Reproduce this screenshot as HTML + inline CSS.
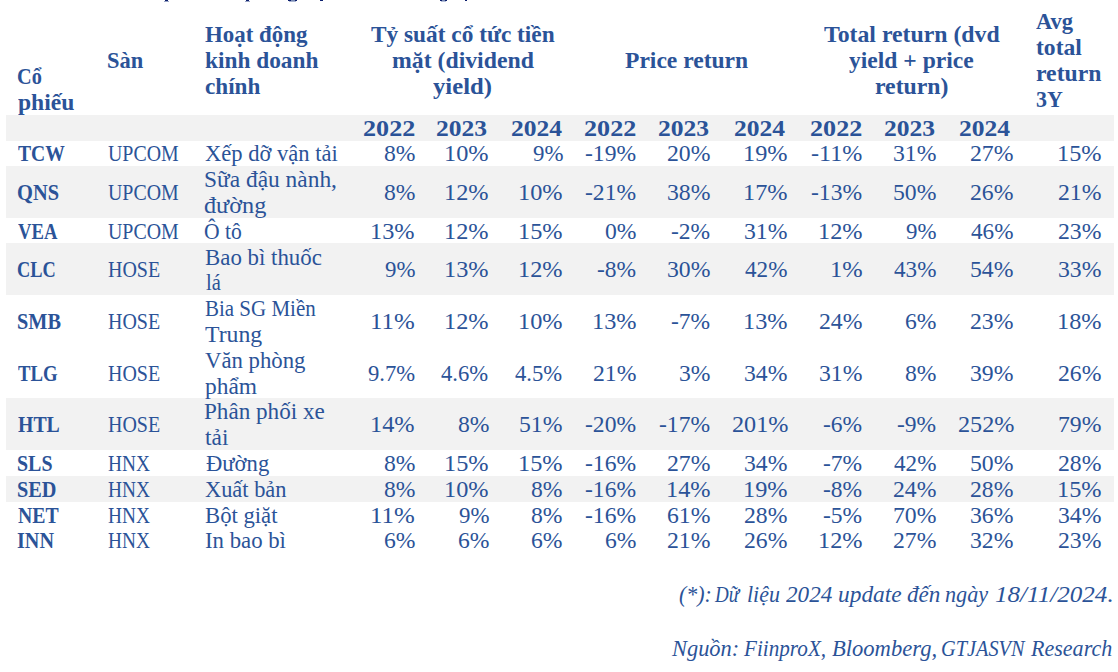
<!DOCTYPE html>
<html><head><meta charset="utf-8"><style>
html,body{margin:0;padding:0;background:#fff;width:1118px;height:672px;overflow:hidden;position:relative}
.t{position:absolute;font-family:"Liberation Serif",serif;font-size:23.0px;line-height:40px;white-space:nowrap;color:#2b5398}
.t.r{}
.g{position:absolute;left:6px;width:1108px;background:#f2f2f2}
.m{position:absolute;background:#1f3a78}
</style></head><body>
<div class=g style="top:115px;height:26px"></div>
<div class=g style="top:166px;height:52px"></div>
<div class=g style="top:243px;height:52px"></div>
<div class=g style="top:398px;height:52px"></div>
<div class=g style="top:476px;height:26px"></div>
<div class=m style="left:165px;top:0;width:3px;height:1px;background:#0c1f6e"></div>
<div class=m style="left:164px;top:1px;width:5px;height:1px;background:#9aa6c6"></div>
<div class=m style="left:246px;top:0;width:3px;height:1px;background:#0c1f6e"></div>
<div class=m style="left:245px;top:1px;width:5px;height:1px;background:#9aa6c6"></div>
<div class=m style="left:288px;top:0;width:3px;height:1px;background:#0c1f6e"></div>
<div class=m style="left:291px;top:0;width:4px;height:1px;background:#7a8cb4"></div>
<div class=m style="left:295px;top:0;width:2px;height:1px;background:#0c1f6e"></div>
<div class=m style="left:289px;top:1px;width:7px;height:1px;background:#a9b4d0"></div>
<div class=m style="left:320px;top:0;width:3px;height:1px;background:#0c1f6e"></div>
<div class=m style="left:440px;top:0;width:2px;height:1px;background:#0c1f6e"></div>
<div class=m style="left:442px;top:0;width:3px;height:1px;background:#7a8cb4"></div>
<div class=m style="left:445px;top:0;width:2px;height:1px;background:#0c1f6e"></div>
<div class=m style="left:441px;top:1px;width:5px;height:1px;background:#b5bfd8"></div>
<div class=m style="left:465px;top:0;width:2px;height:1px;background:#0c1f6e"></div>

<div class="t" style="left:17.12px;top:57.00px;font-weight:bold;transform:scaleX(0.8815);transform-origin:0 0;">Cổ</div>
<div class="t" style="left:18.00px;top:83.00px;font-weight:bold;transform:scaleX(1.0255);transform-origin:0 0;">phiếu</div>
<div class="t" style="left:106.52px;top:41.00px;font-weight:bold;transform:scaleX(0.9778);transform-origin:0 0;">Sàn</div>
<div class="t" style="left:205.20px;top:15.00px;font-weight:bold;transform:scaleX(0.9961);transform-origin:0 0;">Hoạt động</div>
<div class="t" style="left:205.20px;top:41.00px;font-weight:bold;transform:scaleX(1.0134);transform-origin:0 0;">kinh doanh</div>
<div class="t" style="left:205.20px;top:67.00px;font-weight:bold;transform:scaleX(1.0073);transform-origin:0 0;">chính</div>
<div class="t" style="left:370.95px;top:15.00px;font-weight:bold;transform:scaleX(1.0135);transform-origin:0 0;">Tỷ suất cổ tức tiền</div>
<div class="t" style="left:392.10px;top:41.00px;font-weight:bold;transform:scaleX(1.0328);transform-origin:0 0;">mặt (dividend</div>
<div class="t" style="left:433.40px;top:67.00px;font-weight:bold;transform:scaleX(1.0722);transform-origin:0 0;">yield)</div>
<div class="t" style="left:625.00px;top:41.00px;font-weight:bold;transform:scaleX(1.0242);transform-origin:0 0;">Price return</div>
<div class="t" style="left:824.10px;top:15.00px;font-weight:bold;transform:scaleX(1.0335);transform-origin:0 0;">Total return (dvd</div>
<div class="t" style="left:849.10px;top:41.00px;font-weight:bold;transform:scaleX(1.0246);transform-origin:0 0;">yield + price</div>
<div class="t" style="left:874.90px;top:67.00px;font-weight:bold;transform:scaleX(1.0338);transform-origin:0 0;">return)</div>
<div class="t" style="left:1036.00px;top:2.00px;font-weight:bold;transform:scaleX(0.9789);transform-origin:0 0;">Avg</div>
<div class="t" style="left:1036.00px;top:28.00px;font-weight:bold;transform:scaleX(1.0267);transform-origin:0 0;">total</div>
<div class="t" style="left:1036.00px;top:54.00px;font-weight:bold;transform:scaleX(1.0312);transform-origin:0 0;">return</div>
<div class="t" style="left:1035.54px;top:80.00px;font-weight:bold;transform:scaleX(0.9556);transform-origin:0 0;">3Y</div>
<div class="t" style="left:362.66px;top:108.60px;font-weight:bold;transform:scaleX(1.1364);transform-origin:0 0;">2022</div>
<div class="t" style="left:436.29px;top:108.60px;font-weight:bold;transform:scaleX(1.1111);transform-origin:0 0;">2023</div>
<div class="t" style="left:510.89px;top:108.60px;font-weight:bold;transform:scaleX(1.1111);transform-origin:0 0;">2024</div>
<div class="t" style="left:584.26px;top:108.60px;font-weight:bold;transform:scaleX(1.1364);transform-origin:0 0;">2022</div>
<div class="t" style="left:658.39px;top:108.60px;font-weight:bold;transform:scaleX(1.1111);transform-origin:0 0;">2023</div>
<div class="t" style="left:733.89px;top:108.60px;font-weight:bold;transform:scaleX(1.1111);transform-origin:0 0;">2024</div>
<div class="t" style="left:810.16px;top:108.60px;font-weight:bold;transform:scaleX(1.1364);transform-origin:0 0;">2022</div>
<div class="t" style="left:884.09px;top:108.60px;font-weight:bold;transform:scaleX(1.1111);transform-origin:0 0;">2023</div>
<div class="t" style="left:959.39px;top:108.60px;font-weight:bold;transform:scaleX(1.1111);transform-origin:0 0;">2024</div>
<div class="t" style="left:18.00px;top:134.00px;font-weight:bold;transform:scaleX(0.8527);transform-origin:0 0;">TCW</div>
<div class="t r" style="left:108.20px;top:134.00px;transform:scaleX(0.8642);transform-origin:0 0;">UPCOM</div>
<div class="t r" style="left:205.00px;top:134.00px;transform:scaleX(0.9807);transform-origin:0 0;">Xếp dỡ vận tải</div>
<div class="t r" style="left:383.97px;top:134.00px;transform:scaleX(1.0276);transform-origin:0 0;">8%</div>
<div class="t r" style="left:444.14px;top:134.00px;transform:scaleX(1.0562);transform-origin:0 0;">10%</div>
<div class="t r" style="left:532.50px;top:134.00px;transform:scaleX(0.9933);transform-origin:0 0;">9%</div>
<div class="t r" style="left:585.02px;top:134.00px;transform:scaleX(1.0255);transform-origin:0 0;">-19%</div>
<div class="t r" style="left:667.02px;top:134.00px;transform:scaleX(1.0305);transform-origin:0 0;">20%</div>
<div class="t r" style="left:743.34px;top:134.00px;transform:scaleX(1.0562);transform-origin:0 0;">19%</div>
<div class="t r" style="left:810.70px;top:134.00px;transform:scaleX(1.0469);transform-origin:0 0;">-11%</div>
<div class="t r" style="left:892.72px;top:134.00px;transform:scaleX(1.0305);transform-origin:0 0;">31%</div>
<div class="t r" style="left:970.02px;top:134.00px;transform:scaleX(1.0305);transform-origin:0 0;">27%</div>
<div class="t r" style="left:1057.14px;top:134.00px;transform:scaleX(1.0562);transform-origin:0 0;">15%</div>
<div class="t" style="left:17.11px;top:173.00px;font-weight:bold;transform:scaleX(0.8891);transform-origin:0 0;">QNS</div>
<div class="t r" style="left:108.20px;top:173.00px;transform:scaleX(0.8642);transform-origin:0 0;">UPCOM</div>
<div class="t r" style="left:203.98px;top:160.10px;transform:scaleX(1.0178);transform-origin:0 0;">Sữa đậu nành,</div>
<div class="t r" style="left:204.15px;top:185.90px;transform:scaleX(1.0534);transform-origin:0 0;">đường</div>
<div class="t r" style="left:383.97px;top:173.00px;transform:scaleX(1.0276);transform-origin:0 0;">8%</div>
<div class="t r" style="left:444.14px;top:173.00px;transform:scaleX(1.0562);transform-origin:0 0;">12%</div>
<div class="t r" style="left:517.94px;top:173.00px;transform:scaleX(1.0562);transform-origin:0 0;">10%</div>
<div class="t r" style="left:585.02px;top:173.00px;transform:scaleX(1.0255);transform-origin:0 0;">-21%</div>
<div class="t r" style="left:667.02px;top:173.00px;transform:scaleX(1.0305);transform-origin:0 0;">38%</div>
<div class="t r" style="left:743.34px;top:173.00px;transform:scaleX(1.0562);transform-origin:0 0;">17%</div>
<div class="t r" style="left:810.72px;top:173.00px;transform:scaleX(1.0255);transform-origin:0 0;">-13%</div>
<div class="t r" style="left:892.72px;top:173.00px;transform:scaleX(1.0305);transform-origin:0 0;">50%</div>
<div class="t r" style="left:970.02px;top:173.00px;transform:scaleX(1.0305);transform-origin:0 0;">26%</div>
<div class="t r" style="left:1058.22px;top:173.00px;transform:scaleX(1.0305);transform-origin:0 0;">21%</div>
<div class="t" style="left:18.00px;top:212.00px;font-weight:bold;transform:scaleX(0.8102);transform-origin:0 0;">VEA</div>
<div class="t r" style="left:108.20px;top:212.00px;transform:scaleX(0.8642);transform-origin:0 0;">UPCOM</div>
<div class="t r" style="left:204.26px;top:212.00px;transform:scaleX(0.9385);transform-origin:0 0;">Ô tô</div>
<div class="t r" style="left:370.44px;top:212.00px;transform:scaleX(1.0562);transform-origin:0 0;">13%</div>
<div class="t r" style="left:444.14px;top:212.00px;transform:scaleX(1.0562);transform-origin:0 0;">12%</div>
<div class="t r" style="left:517.94px;top:212.00px;transform:scaleX(1.0562);transform-origin:0 0;">15%</div>
<div class="t r" style="left:605.47px;top:212.00px;transform:scaleX(1.0276);transform-origin:0 0;">0%</div>
<div class="t r" style="left:671.48px;top:212.00px;transform:scaleX(1.0216);transform-origin:0 0;">-2%</div>
<div class="t r" style="left:744.42px;top:212.00px;transform:scaleX(1.0305);transform-origin:0 0;">31%</div>
<div class="t r" style="left:817.64px;top:212.00px;transform:scaleX(1.0562);transform-origin:0 0;">12%</div>
<div class="t r" style="left:906.20px;top:212.00px;transform:scaleX(0.9933);transform-origin:0 0;">9%</div>
<div class="t r" style="left:971.05px;top:212.00px;transform:scaleX(1.0060);transform-origin:0 0;">46%</div>
<div class="t r" style="left:1058.22px;top:212.00px;transform:scaleX(1.0305);transform-origin:0 0;">23%</div>
<div class="t" style="left:17.20px;top:250.00px;font-weight:bold;transform:scaleX(0.7957);transform-origin:0 0;">CLC</div>
<div class="t r" style="left:108.20px;top:250.00px;transform:scaleX(0.8678);transform-origin:0 0;">HOSE</div>
<div class="t r" style="left:204.81px;top:238.00px;transform:scaleX(0.9940);transform-origin:0 0;">Bao bì thuốc</div>
<div class="t r" style="left:205.50px;top:262.90px;transform:scaleX(0.8941);transform-origin:0 0;">lá</div>
<div class="t r" style="left:385.00px;top:250.00px;transform:scaleX(0.9933);transform-origin:0 0;">9%</div>
<div class="t r" style="left:444.14px;top:250.00px;transform:scaleX(1.0562);transform-origin:0 0;">13%</div>
<div class="t r" style="left:517.94px;top:250.00px;transform:scaleX(1.0562);transform-origin:0 0;">12%</div>
<div class="t r" style="left:597.48px;top:250.00px;transform:scaleX(1.0216);transform-origin:0 0;">-8%</div>
<div class="t r" style="left:667.02px;top:250.00px;transform:scaleX(1.0305);transform-origin:0 0;">30%</div>
<div class="t r" style="left:745.45px;top:250.00px;transform:scaleX(1.0060);transform-origin:0 0;">42%</div>
<div class="t r" style="left:830.07px;top:250.00px;transform:scaleX(1.0643);transform-origin:0 0;">1%</div>
<div class="t r" style="left:893.75px;top:250.00px;transform:scaleX(1.0060);transform-origin:0 0;">43%</div>
<div class="t r" style="left:970.02px;top:250.00px;transform:scaleX(1.0305);transform-origin:0 0;">54%</div>
<div class="t r" style="left:1058.22px;top:250.00px;transform:scaleX(1.0305);transform-origin:0 0;">33%</div>
<div class="t" style="left:17.12px;top:302.00px;font-weight:bold;transform:scaleX(0.8816);transform-origin:0 0;">SMB</div>
<div class="t r" style="left:108.20px;top:302.00px;transform:scaleX(0.8678);transform-origin:0 0;">HOSE</div>
<div class="t r" style="left:204.89px;top:289.10px;transform:scaleX(0.9117);transform-origin:0 0;">Bia SG Miền</div>
<div class="t r" style="left:205.00px;top:314.90px;transform:scaleX(1.0327);transform-origin:0 0;">Trung</div>
<div class="t r" style="left:370.38px;top:302.00px;transform:scaleX(1.0833);transform-origin:0 0;">11%</div>
<div class="t r" style="left:444.14px;top:302.00px;transform:scaleX(1.0562);transform-origin:0 0;">12%</div>
<div class="t r" style="left:517.94px;top:302.00px;transform:scaleX(1.0562);transform-origin:0 0;">10%</div>
<div class="t r" style="left:591.94px;top:302.00px;transform:scaleX(1.0562);transform-origin:0 0;">13%</div>
<div class="t r" style="left:671.48px;top:302.00px;transform:scaleX(1.0216);transform-origin:0 0;">-7%</div>
<div class="t r" style="left:743.34px;top:302.00px;transform:scaleX(1.0562);transform-origin:0 0;">13%</div>
<div class="t r" style="left:818.72px;top:302.00px;transform:scaleX(1.0305);transform-origin:0 0;">24%</div>
<div class="t r" style="left:905.17px;top:302.00px;transform:scaleX(1.0276);transform-origin:0 0;">6%</div>
<div class="t r" style="left:970.02px;top:302.00px;transform:scaleX(1.0305);transform-origin:0 0;">23%</div>
<div class="t r" style="left:1057.14px;top:302.00px;transform:scaleX(1.0562);transform-origin:0 0;">18%</div>
<div class="t" style="left:18.00px;top:354.00px;font-weight:bold;transform:scaleX(0.8146);transform-origin:0 0;">TLG</div>
<div class="t r" style="left:108.20px;top:354.00px;transform:scaleX(0.8678);transform-origin:0 0;">HOSE</div>
<div class="t r" style="left:205.00px;top:341.10px;transform:scaleX(0.9891);transform-origin:0 0;">Văn phòng</div>
<div class="t r" style="left:205.30px;top:366.90px;transform:scaleX(1.0176);transform-origin:0 0;">phẩm</div>
<div class="t r" style="left:367.55px;top:354.00px;transform:scaleX(0.9844);transform-origin:0 0;">9.7%</div>
<div class="t r" style="left:441.25px;top:354.00px;transform:scaleX(0.9844);transform-origin:0 0;">4.6%</div>
<div class="t r" style="left:515.05px;top:354.00px;transform:scaleX(0.9844);transform-origin:0 0;">4.5%</div>
<div class="t r" style="left:593.02px;top:354.00px;transform:scaleX(1.0305);transform-origin:0 0;">21%</div>
<div class="t r" style="left:679.47px;top:354.00px;transform:scaleX(1.0276);transform-origin:0 0;">3%</div>
<div class="t r" style="left:744.42px;top:354.00px;transform:scaleX(1.0305);transform-origin:0 0;">34%</div>
<div class="t r" style="left:818.72px;top:354.00px;transform:scaleX(1.0305);transform-origin:0 0;">31%</div>
<div class="t r" style="left:905.17px;top:354.00px;transform:scaleX(1.0276);transform-origin:0 0;">8%</div>
<div class="t r" style="left:970.02px;top:354.00px;transform:scaleX(1.0305);transform-origin:0 0;">39%</div>
<div class="t r" style="left:1058.22px;top:354.00px;transform:scaleX(1.0305);transform-origin:0 0;">26%</div>
<div class="t" style="left:18.00px;top:405.00px;font-weight:bold;transform:scaleX(0.8604);transform-origin:0 0;">HTL</div>
<div class="t r" style="left:108.20px;top:405.00px;transform:scaleX(0.8678);transform-origin:0 0;">HOSE</div>
<div class="t r" style="left:204.39px;top:392.10px;transform:scaleX(1.0059);transform-origin:0 0;">Phân phối xe</div>
<div class="t r" style="left:205.00px;top:417.90px;transform:scaleX(1.0174);transform-origin:0 0;">tải</div>
<div class="t r" style="left:370.44px;top:405.00px;transform:scaleX(1.0562);transform-origin:0 0;">14%</div>
<div class="t r" style="left:457.67px;top:405.00px;transform:scaleX(1.0276);transform-origin:0 0;">8%</div>
<div class="t r" style="left:519.02px;top:405.00px;transform:scaleX(1.0305);transform-origin:0 0;">51%</div>
<div class="t r" style="left:585.02px;top:405.00px;transform:scaleX(1.0255);transform-origin:0 0;">-20%</div>
<div class="t r" style="left:659.02px;top:405.00px;transform:scaleX(1.0255);transform-origin:0 0;">-17%</div>
<div class="t r" style="left:731.95px;top:405.00px;transform:scaleX(1.0519);transform-origin:0 0;">201%</div>
<div class="t r" style="left:823.18px;top:405.00px;transform:scaleX(1.0216);transform-origin:0 0;">-6%</div>
<div class="t r" style="left:897.18px;top:405.00px;transform:scaleX(1.0216);transform-origin:0 0;">-9%</div>
<div class="t r" style="left:957.55px;top:405.00px;transform:scaleX(1.0519);transform-origin:0 0;">252%</div>
<div class="t r" style="left:1058.22px;top:405.00px;transform:scaleX(1.0305);transform-origin:0 0;">79%</div>
<div class="t" style="left:17.13px;top:444.00px;font-weight:bold;transform:scaleX(0.8667);transform-origin:0 0;">SLS</div>
<div class="t r" style="left:108.20px;top:444.00px;transform:scaleX(0.8420);transform-origin:0 0;">HNX</div>
<div class="t r" style="left:205.70px;top:444.00px;transform:scaleX(0.9844);transform-origin:0 0;">Đường</div>
<div class="t r" style="left:383.97px;top:444.00px;transform:scaleX(1.0276);transform-origin:0 0;">8%</div>
<div class="t r" style="left:444.14px;top:444.00px;transform:scaleX(1.0562);transform-origin:0 0;">15%</div>
<div class="t r" style="left:517.94px;top:444.00px;transform:scaleX(1.0562);transform-origin:0 0;">15%</div>
<div class="t r" style="left:585.02px;top:444.00px;transform:scaleX(1.0255);transform-origin:0 0;">-16%</div>
<div class="t r" style="left:667.02px;top:444.00px;transform:scaleX(1.0305);transform-origin:0 0;">27%</div>
<div class="t r" style="left:744.42px;top:444.00px;transform:scaleX(1.0305);transform-origin:0 0;">34%</div>
<div class="t r" style="left:823.18px;top:444.00px;transform:scaleX(1.0216);transform-origin:0 0;">-7%</div>
<div class="t r" style="left:893.75px;top:444.00px;transform:scaleX(1.0060);transform-origin:0 0;">42%</div>
<div class="t r" style="left:970.02px;top:444.00px;transform:scaleX(1.0305);transform-origin:0 0;">50%</div>
<div class="t r" style="left:1058.22px;top:444.00px;transform:scaleX(1.0305);transform-origin:0 0;">28%</div>
<div class="t" style="left:17.12px;top:470.00px;font-weight:bold;transform:scaleX(0.8814);transform-origin:0 0;">SED</div>
<div class="t r" style="left:108.20px;top:470.00px;transform:scaleX(0.8420);transform-origin:0 0;">HNX</div>
<div class="t r" style="left:204.90px;top:470.00px;transform:scaleX(0.9738);transform-origin:0 0;">Xuất bản</div>
<div class="t r" style="left:383.97px;top:470.00px;transform:scaleX(1.0276);transform-origin:0 0;">8%</div>
<div class="t r" style="left:444.14px;top:470.00px;transform:scaleX(1.0562);transform-origin:0 0;">10%</div>
<div class="t r" style="left:531.47px;top:470.00px;transform:scaleX(1.0276);transform-origin:0 0;">8%</div>
<div class="t r" style="left:585.02px;top:470.00px;transform:scaleX(1.0255);transform-origin:0 0;">-16%</div>
<div class="t r" style="left:665.94px;top:470.00px;transform:scaleX(1.0562);transform-origin:0 0;">14%</div>
<div class="t r" style="left:743.34px;top:470.00px;transform:scaleX(1.0562);transform-origin:0 0;">19%</div>
<div class="t r" style="left:823.18px;top:470.00px;transform:scaleX(1.0216);transform-origin:0 0;">-8%</div>
<div class="t r" style="left:892.72px;top:470.00px;transform:scaleX(1.0305);transform-origin:0 0;">24%</div>
<div class="t r" style="left:970.02px;top:470.00px;transform:scaleX(1.0305);transform-origin:0 0;">28%</div>
<div class="t r" style="left:1057.14px;top:470.00px;transform:scaleX(1.0562);transform-origin:0 0;">15%</div>
<div class="t" style="left:18.00px;top:496.00px;font-weight:bold;transform:scaleX(0.8596);transform-origin:0 0;">NET</div>
<div class="t r" style="left:108.20px;top:496.00px;transform:scaleX(0.8420);transform-origin:0 0;">HNX</div>
<div class="t r" style="left:205.21px;top:496.00px;transform:scaleX(0.9861);transform-origin:0 0;">Bột giặt</div>
<div class="t r" style="left:370.38px;top:496.00px;transform:scaleX(1.0833);transform-origin:0 0;">11%</div>
<div class="t r" style="left:458.70px;top:496.00px;transform:scaleX(0.9933);transform-origin:0 0;">9%</div>
<div class="t r" style="left:531.47px;top:496.00px;transform:scaleX(1.0276);transform-origin:0 0;">8%</div>
<div class="t r" style="left:585.02px;top:496.00px;transform:scaleX(1.0255);transform-origin:0 0;">-16%</div>
<div class="t r" style="left:667.02px;top:496.00px;transform:scaleX(1.0305);transform-origin:0 0;">61%</div>
<div class="t r" style="left:744.42px;top:496.00px;transform:scaleX(1.0305);transform-origin:0 0;">28%</div>
<div class="t r" style="left:823.18px;top:496.00px;transform:scaleX(1.0216);transform-origin:0 0;">-5%</div>
<div class="t r" style="left:892.72px;top:496.00px;transform:scaleX(1.0305);transform-origin:0 0;">70%</div>
<div class="t r" style="left:970.02px;top:496.00px;transform:scaleX(1.0305);transform-origin:0 0;">36%</div>
<div class="t r" style="left:1058.22px;top:496.00px;transform:scaleX(1.0305);transform-origin:0 0;">34%</div>
<div class="t" style="left:17.12px;top:521.00px;font-weight:bold;transform:scaleX(0.8780);transform-origin:0 0;">INN</div>
<div class="t r" style="left:108.20px;top:521.00px;transform:scaleX(0.8420);transform-origin:0 0;">HNX</div>
<div class="t r" style="left:205.21px;top:521.00px;transform:scaleX(0.9900);transform-origin:0 0;">In bao bì</div>
<div class="t r" style="left:383.97px;top:521.00px;transform:scaleX(1.0276);transform-origin:0 0;">6%</div>
<div class="t r" style="left:457.67px;top:521.00px;transform:scaleX(1.0276);transform-origin:0 0;">6%</div>
<div class="t r" style="left:531.47px;top:521.00px;transform:scaleX(1.0276);transform-origin:0 0;">6%</div>
<div class="t r" style="left:605.47px;top:521.00px;transform:scaleX(1.0276);transform-origin:0 0;">6%</div>
<div class="t r" style="left:667.02px;top:521.00px;transform:scaleX(1.0305);transform-origin:0 0;">21%</div>
<div class="t r" style="left:744.42px;top:521.00px;transform:scaleX(1.0305);transform-origin:0 0;">26%</div>
<div class="t r" style="left:817.64px;top:521.00px;transform:scaleX(1.0562);transform-origin:0 0;">12%</div>
<div class="t r" style="left:892.72px;top:521.00px;transform:scaleX(1.0305);transform-origin:0 0;">27%</div>
<div class="t r" style="left:970.02px;top:521.00px;transform:scaleX(1.0305);transform-origin:0 0;">32%</div>
<div class="t r" style="left:1058.22px;top:521.00px;transform:scaleX(1.0305);transform-origin:0 0;">23%</div>
<div class="t r" style="left:678.95px;top:575.00px;font-style:italic;transform:scaleX(0.9531);transform-origin:0 0;">(*):</div>
<div class="t r" style="left:715.40px;top:575.00px;font-style:italic;transform:scaleX(0.8258);transform-origin:0 0;">Dữ</div>
<div class="t r" style="left:746.85px;top:575.00px;font-style:italic;transform:scaleX(0.9545);transform-origin:0 0;">liệu</div>
<div class="t r" style="left:786.20px;top:575.00px;font-style:italic;transform:scaleX(1.0065);transform-origin:0 0;">2024</div>
<div class="t r" style="left:837.98px;top:575.00px;font-style:italic;transform:scaleX(1.0177);transform-origin:0 0;">update</div>
<div class="t r" style="left:907.30px;top:575.00px;font-style:italic;transform:scaleX(1.0063);transform-origin:0 0;">đến</div>
<div class="t r" style="left:944.93px;top:575.00px;font-style:italic;transform:scaleX(0.9659);transform-origin:0 0;">ngày</div>
<div class="t r" style="left:995.11px;top:575.00px;font-style:italic;transform:scaleX(1.0906);transform-origin:0 0;">18/11/2024.</div>
<div class="t r" style="left:672.20px;top:629.00px;font-style:italic;transform:scaleX(0.9746);transform-origin:0 0;">Nguồn:</div>
<div class="t r" style="left:743.70px;top:629.00px;font-style:italic;transform:scaleX(0.9205);transform-origin:0 0;">FiinproX,</div>
<div class="t r" style="left:832.40px;top:629.00px;font-style:italic;transform:scaleX(0.9811);transform-origin:0 0;">Bloomberg,</div>
<div class="t r" style="left:940.72px;top:629.00px;font-style:italic;transform:scaleX(0.8832);transform-origin:0 0;">GTJASVN</div>
<div class="t r" style="left:1030.70px;top:629.00px;font-style:italic;transform:scaleX(0.9583);transform-origin:0 0;">Research</div>
</body></html>
